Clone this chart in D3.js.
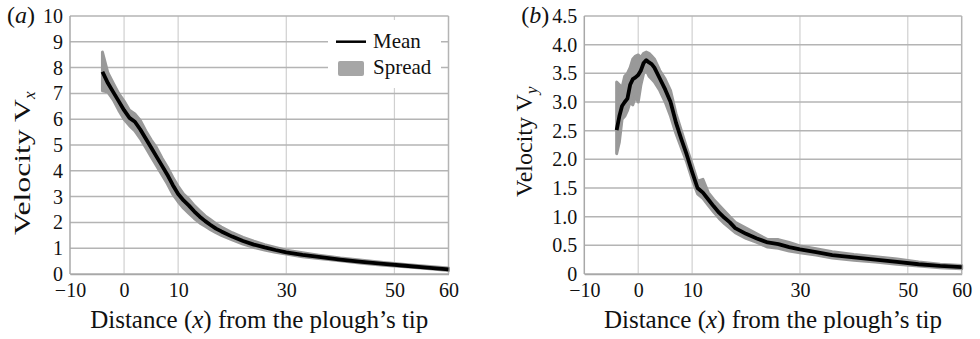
<!DOCTYPE html>
<html>
<head>
<meta charset="utf-8">
<script src="https://cdn.jsdelivr.net/npm/d3@7"></script>
<style>
  body { margin: 0; background: #fff; }
  svg text { font-family: "Liberation Serif", "DejaVu Serif", serif; fill: #111; }
</style>
</head>
<body>
<svg id="chart" width="980" height="339"></svg>
<script>
// panel (a): Vx
const xA = [-4, -3, -2, -1, 0, 1, 2, 3, 4, 5, 6, 7, 8, 9, 10, 11, 12, 13, 14, 15, 16, 17, 18, 20, 22, 24, 26, 28, 30, 33, 36, 40, 44, 48, 52, 56, 60]
const meanA = [7.84, 7.4, 7.05, 6.7, 6.35, 6.05, 5.9, 5.6, 5.25, 4.9, 4.55, 4.2, 3.85, 3.45, 3.1, 2.85, 2.65, 2.42, 2.22, 2.05, 1.9, 1.76, 1.65, 1.45, 1.28, 1.14, 1.03, 0.93, 0.84, 0.74, 0.66, 0.56, 0.47, 0.39, 0.32, 0.25, 0.18]
const loA = [7.1, 7.05, 6.75, 6.35, 6.0, 5.75, 5.55, 5.25, 4.9, 4.55, 4.2, 3.85, 3.5, 3.1, 2.8, 2.55, 2.35, 2.15, 1.98, 1.85, 1.72, 1.6, 1.5, 1.32, 1.16, 1.03, 0.93, 0.84, 0.77, 0.67, 0.6, 0.51, 0.42, 0.34, 0.28, 0.21, 0.14]
const hiA = [8.6, 7.8, 7.4, 7.0, 6.7, 6.35, 6.2, 5.95, 5.55, 5.2, 4.9, 4.5, 4.15, 3.75, 3.4, 3.1, 2.9, 2.65, 2.45, 2.25, 2.1, 1.95, 1.82, 1.6, 1.42, 1.27, 1.14, 1.03, 0.92, 0.82, 0.73, 0.62, 0.53, 0.45, 0.37, 0.3, 0.23]

// panel (b): Vy
const xB = [-4, -3.5, -3, -2.5, -2, -1.5, -1, -0.5, 0, 0.5, 1, 1.5, 2, 2.5, 3, 4, 5, 6, 7, 8, 9, 10, 11, 12, 13, 14, 15, 16, 17, 18, 20, 22, 24, 26, 28, 30, 33, 36, 40, 44, 48, 52, 56, 60]
const meanB = [2.51, 2.75, 2.93, 3.0, 3.06, 3.3, 3.4, 3.43, 3.47, 3.55, 3.68, 3.73, 3.69, 3.66, 3.6, 3.41, 3.22, 3.0, 2.64, 2.35, 2.08, 1.78, 1.5, 1.42, 1.3, 1.18, 1.07, 0.98, 0.9, 0.8, 0.7, 0.62, 0.55, 0.52, 0.47, 0.43, 0.38, 0.33, 0.29, 0.25, 0.21, 0.17, 0.14, 0.12]
const loB = [2.1, 2.3, 2.7, 2.75, 2.85, 3.0, 2.95, 3.1, 3.0, 3.3, 3.5, 3.55, 3.45, 3.4, 3.35, 3.2, 3.0, 2.75, 2.45, 2.2, 1.95, 1.65, 1.4, 1.32, 1.2, 1.08, 0.97, 0.88, 0.8, 0.72, 0.62, 0.55, 0.47, 0.45, 0.4, 0.37, 0.33, 0.28, 0.24, 0.21, 0.17, 0.14, 0.11, 0.09]
const hiB = [3.35, 3.3, 3.25, 3.45, 3.5, 3.6, 3.75, 3.8, 3.82, 3.78, 3.85, 3.87, 3.85, 3.8, 3.75, 3.55, 3.4, 3.2, 2.8, 2.5, 2.2, 1.92, 1.62, 1.65, 1.42, 1.3, 1.2, 1.1, 1.0, 0.9, 0.8, 0.7, 0.6, 0.6, 0.55, 0.49, 0.44, 0.39, 0.34, 0.3, 0.26, 0.21, 0.17, 0.15]

const xTicks = [-10, 0, 10, 30, 50, 60]
const xGrid = [0, 10, 30, 50]
const yTicksA = [0, 1, 2, 3, 4, 5, 6, 7, 8, 9, 10]
const yTicksB = [0, 0.5, 1, 1.5, 2, 2.5, 3, 3.5, 4, 4.5]
const legendLabels = ['Mean', 'Spread']

const svg = d3.select('#chart')
const plotTop = 16, plotBottom = 274

function drawPanel(opt) {
    const g = svg.append('g')
    const x = d3.scaleLinear().domain([-10, 60]).range([opt.left, opt.right])
    const y = d3.scaleLinear().domain([0, opt.yMax]).range([plotBottom, plotTop])

    //grid
    g.selectAll('.vgrid').data(xGrid).join('line')
        .attr('x1', d => x(d)).attr('x2', d => x(d))
        .attr('y1', plotTop).attr('y2', plotBottom)
        .attr('stroke', '#d0d0d0').attr('stroke-width', 1.2)
    g.selectAll('.hgrid').data(opt.yTicks).join('line')
        .attr('x1', opt.left).attr('x2', opt.right)
        .attr('y1', d => y(d)).attr('y2', d => y(d))
        .attr('stroke', '#b4b4b4').attr('stroke-width', 1.5)
    g.append('line').attr('x1', opt.right).attr('x2', opt.right).attr('y1', plotTop).attr('y2', plotBottom)
        .attr('stroke', '#b4b4b4').attr('stroke-width', 1.5)
    g.append('line').attr('x1', opt.left).attr('x2', opt.left).attr('y1', plotTop).attr('y2', plotBottom)
        .attr('stroke', '#a8a8a8').attr('stroke-width', 1.5)

    //axes
    const yAxis = d3.axisLeft(y).tickValues(opt.yTicks).tickSize(0).tickPadding(7)
        .tickFormat(opt.yFormat)
    g.append('g').attr('transform', `translate(${opt.left},0)`).call(yAxis)
        .call(a => a.select('.domain').remove())
        .selectAll('text').attr('font-size', 20).attr('font-family', 'Liberation Serif').attr('fill', '#111')
    const xAxis = d3.axisBottom(x).tickValues(xTicks).tickSize(0).tickPadding(9)
        .tickFormat(d => d < 0 ? '\u2212' + Math.abs(d) : d)
    g.append('g').attr('transform', `translate(0,${plotBottom})`).call(xAxis)
        .call(a => a.select('.domain').attr('stroke', '#a8a8a8').attr('stroke-width', 1.5))
        .selectAll('text').attr('font-size', 20).attr('font-family', 'Liberation Serif').attr('fill', '#111')

    //spread and mean
    const rows = opt.xs.map((d, i) => ({ x: d, m: opt.mean[i], lo: opt.lo[i], hi: opt.hi[i] }))
    const area = d3.area().x(d => x(d.x)).y0(d => y(d.lo)).y1(d => y(d.hi))
    g.append('path').datum(rows).attr('d', area)
        .attr('fill', '#999').attr('stroke', '#999').attr('stroke-width', 3).attr('stroke-linejoin', 'round')
    const line = d3.line().x(d => x(d.x)).y(d => y(d.m))
    g.append('path').datum(rows).attr('d', line)
        .attr('fill', 'none').attr('stroke', '#000').attr('stroke-width', 3.8).attr('stroke-linejoin', 'round')

    //titles
    const yt = g.append('text').attr('font-size', 24)
        .attr('transform', `translate(${opt.titleX},${opt.titleY}) rotate(-90)`)
    const main = yt.append('tspan').text('Velocity V')
    if (opt.titleLen) main.attr('textLength', opt.titleLen).attr('lengthAdjust', 'spacingAndGlyphs')
    yt.append('tspan').text(opt.sub).attr('font-style', 'italic').attr('font-size', 17).attr('dy', 5)
    g.append('text').attr('font-size', 25).attr('text-anchor', 'middle')
        .attr('x', (opt.left + opt.right) / 2).attr('y', 328)
        .call(t => {
            t.append('tspan').text('Distance (')
            t.append('tspan').text('x').attr('font-style', 'italic')
            t.append('tspan').text(') from the plough\u2019s tip')
        })
    g.append('text').attr('font-size', 24).attr('x', opt.left - 63).attr('y', 23)
        .call(t => {
            t.append('tspan').text('(')
            t.append('tspan').text(opt.tag).attr('font-style', 'italic')
            t.append('tspan').text(')')
        })
    return { g, x, y }
}

const pa = drawPanel({ left: 70, right: 448.5, yMax: 10, yTicks: yTicksA, yFormat: d => d,
    xs: xA, mean: meanA, lo: loA, hi: hiA, sub: 'x', tag: 'a', titleX: 30, titleY: 235, titleLen: 136 })
drawPanel({ left: 584.3, right: 961.7, yMax: 4.5, yTicks: yTicksB, yFormat: d => d === 0 ? '0' : d.toFixed(1),
    xs: xB, mean: meanB, lo: loB, hi: hiB, sub: 'y', tag: 'b', titleX: 532, titleY: 197 })

//legend in panel a
const lg = pa.g.append('g')
lg.append('rect').attr('x', 328).attr('y', 20).attr('width', 113).attr('height', 68).attr('fill', '#fff')
lg.append('line').attr('x1', 336).attr('x2', 366).attr('y1', 41.7).attr('y2', 41.7)
    .attr('stroke', '#000').attr('stroke-width', 2.5)
lg.append('rect').attr('x', 338).attr('y', 61).attr('width', 26).attr('height', 15).attr('rx', 2)
    .attr('fill', '#a6a6a6')
lg.selectAll('.lt').data(legendLabels).join('text')
    .attr('x', 373).attr('y', (d, i) => 48 + i * 25.5)
    .attr('font-size', 21).text(d => d)
</script>
</body>
</html>
